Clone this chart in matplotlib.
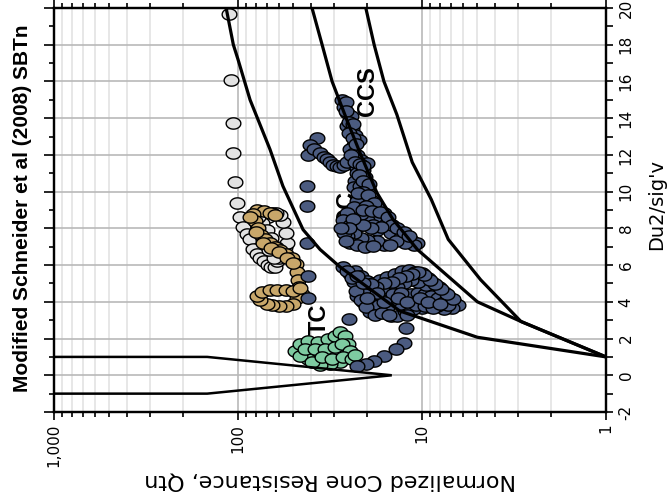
import numpy as np
import matplotlib
matplotlib.use('Agg')
import matplotlib.pyplot as plt
from matplotlib import font_manager

# ---------------- data ----------------
# Boundary lines (Qtn, Du2/sig'v)
v_q = [1000, 147, 14.6, 147, 1000]
v_d = [1, 1, 0, -1, -1]
b_q = [116, 106, 100, 86, 67, 57, 44.3, 35.8, 27.9, 13.2, 5.0, 1.0]
b_d = [20, 18, 17.2, 15.0, 12.3, 10.3, 7.93, 6.85, 5.9, 3.5, 2.07, 1.0]
c_q = [39.6, 34.9, 30.8, 25.6, 21.7, 17.6, 14.4, 10.6, 5.0, 2.9, 1.0]
c_d = [20, 18, 16, 13.9, 12.1, 9.95, 8.5, 6.85, 4.0, 2.93, 1.0]
d_q = [20.2, 18.2, 16.1, 13.7, 11.3, 8.9, 7.2, 4.8, 2.9, 1.0]
d_d = [20, 18.0, 16.0, 14.2, 11.6, 9.57, 7.4, 5.2, 2.93, 1.0]

# Gray series
gray_q = [112, 109, 106, 106, 104, 101, 97.5, 94, 89, 86, 83, 79, 76, 72, 69, 66, 63, 61, 58, 57,
          55.6, 54, 55, 57, 59, 62, 65, 69, 74, 78, 70, 66, 62, 60, 64, 68, 73]
gray_d = [19.7, 16.1, 13.75, 12.1, 10.5, 9.4, 8.64, 8.1, 7.7, 7.4, 6.85, 6.6, 6.4, 6.2, 6.0, 5.9, 5.87, 6.2, 6.5, 6.74,
          7.0, 7.23, 7.77, 8.37, 8.75, 8.86, 8.86, 8.6, 8.3, 8.6, 7.93, 7.5, 7.0, 6.41, 6.41, 6.8, 7.39]

# Tan series
tan_q = [79, 72, 67, 63, 83, 81, 78, 75, 71, 67, 63, 59, 55, 51, 48.5, 47.8, 47.2, 46.6, 45, 48,
         50, 55, 60, 65, 70, 76, 79, 74, 67, 61, 55, 50, 46, 86, 80, 73, 66, 60, 54, 50.5]
tan_d = [9.0, 8.95, 8.85, 8.75, 8.8, 8.4, 8.0, 7.65, 7.4, 7.2, 7.0, 6.8, 6.6, 6.36, 6.05, 5.65, 5.2, 4.78, 4.45, 4.2,
         3.9, 3.75, 3.75, 3.8, 3.9, 4.1, 4.3, 4.55, 4.65, 4.67, 4.62, 4.6, 4.75, 8.6, 7.8, 7.2, 6.95, 6.7, 6.4, 6.1]

# Green series
green_q = [49.0, 46.0, 41.7, 36.7, 32.4, 29.7, 27.9, 26.2, 25.2, 26.2, 28.6, 32.4, 36.7, 41.7, 46.0,
           43.2, 38.1, 33.7, 29.7, 27.2, 24.6, 27.9, 31.6, 35.8, 39.6, 34.9, 30.8, 26.9, 24.0, 23.1]
green_d = [1.30, 1.68, 1.85, 1.79, 1.96, 2.12, 2.34, 2.12, 1.68, 1.30, 1.09, 0.98, 0.87, 0.87, 1.03,
           1.41, 1.41, 1.41, 1.52, 1.68, 1.30, 0.71, 0.60, 0.54, 0.71, 0.98, 0.87, 0.98, 0.87, 1.09]

# Blue series
blue_q = [42.2, 42.2, 42.2, 41.7, 41.7,
          37.2, 40.6, 41.7, 38.5, 35.8, 34.2, 32.8, 31.5, 30.5, 29.0, 27.9, 26.5, 25.6,
          27.2, 26.5, 25.5, 24.3, 25.6, 24.0, 23.0, 22.0, 23.4, 24.5, 23.4, 22.5, 21.5, 19.9, 22.5, 21.0,
          22.5, 20.5, 23.0, 23.4, 21.8, 20.0, 21.5, 18.9, 20.5, 22.5, 17.6, 19.5, 16.1, 17.5, 19.9, 21.5,
          23.4, 25.6, 26.9, 24.5, 22.5, 18.5, 17.6, 15.5, 14.7, 13.0, 11.5, 10.6, 11.0, 12.3, 13.8, 16.1,
          17.5, 19.9, 21.5, 23.4, 25.5, 26.5, 24.6, 22.5, 20.5, 18.5, 15.0,
          25.8, 26.0, 24.8, 23.6, 25.0, 23.8, 22.8, 24.2, 23.0, 21.8, 20.8, 22.0, 21.0, 19.5, 20.8, 22.2,
          19.6, 18.2, 20.2, 21.0, 18.8, 17.0, 15.3, 14.5, 13.6, 12.5, 11.8, 16.8, 19.0, 20.8, 23.8, 25.0,
          27.5, 26.0,
          26.9, 24.6, 23.0, 21.7, 22.5, 20.9, 19.2, 16.3, 14.7, 13.6, 23.5, 21.5, 20.0, 18.5, 17.0, 15.5,
          14.0, 12.8, 11.8, 10.9, 10.0, 9.3, 8.7, 8.1, 7.6, 7.1, 6.7, 6.4, 6.9, 7.6, 8.3, 9.1, 10.0, 11.2,
          12.3, 13.2, 14.8, 16.5, 18.0, 19.5, 20.5, 18.8, 17.2, 15.5, 12.5, 11.5, 10.5, 9.6, 8.9, 8.2, 7.6,
          9.5, 10.5, 11.5, 12.6, 13.7, 15.0, 16.5, 14.3, 13.0, 9.9, 11.0,
          25.5, 24.0, 22.8, 21.5, 20.2, 18.0, 16.5, 15.2, 12.0, 10.8, 9.6, 8.7, 7.2, 6.8, 7.3, 7.9, 8.5,
          9.0, 9.7, 10.5, 11.3, 12.2, 13.3, 14.5, 16.0, 17.8, 19.0, 21.0, 22.5, 13.5, 12.0, 10.2, 9.3,
          8.0, 16.0, 17.5, 19.8,
          24.9, 12.2, 12.5, 13.8, 16.1, 18.2, 20.2, 22.5]
blue_d = [10.3, 9.2, 7.2, 5.4, 4.2,
          12.9, 12.55, 12.0, 12.3, 12.1, 11.9, 11.75, 11.6, 11.47, 11.4, 11.36, 11.45, 11.6,
          15.0, 14.6, 14.3, 14.1, 13.6, 13.4, 13.1, 12.8, 12.55, 12.3, 12.1, 12.0, 11.74, 11.58, 11.3, 11.2,
          11.03, 10.8, 10.6, 10.27, 10.3, 10.2, 9.95, 9.57, 9.7, 9.5, 9.18, 9.3, 8.86, 8.7, 8.48, 8.8,
          9.18, 8.86, 8.48, 8.2, 8.1, 8.2, 7.93, 8.3, 7.77, 7.55, 7.39, 7.23, 7.1, 7.2, 7.3, 7.12,
          7.3, 7.39, 7.5, 7.77, 7.6, 7.77, 7.2, 7.1, 7.0, 7.05, 7.1,
          14.9, 14.4, 13.8, 13.7, 13.2, 12.9, 12.6, 12.0, 11.6, 11.5, 11.4, 10.9, 10.6, 10.4, 10.0, 9.9,
          9.8, 9.4, 9.2, 9.0, 8.95, 8.9, 8.6, 8.2, 8.0, 7.8, 7.6, 8.1, 8.0, 8.2, 8.5, 8.0,
          8.0, 7.3,
          5.87, 5.49, 5.7, 4.84, 4.29, 3.97, 3.42, 3.59, 3.21, 3.21, 5.1, 5.4, 5.15, 5.0, 5.2, 5.35,
          5.5, 5.7, 5.75, 5.65, 5.55, 5.3, 5.05, 4.8, 4.55, 4.25, 4.0, 3.8, 3.65, 3.6, 3.75, 3.7, 3.65, 3.6,
          3.5, 3.9, 4.1, 4.2, 4.35, 4.6, 4.4, 3.9, 3.8, 3.7, 4.2, 4.4, 4.5, 4.4, 4.3, 4.2, 4.0,
          4.9, 5.1, 5.2, 5.0, 4.8, 4.6, 4.75, 4.4, 4.5, 4.05, 3.95,
          5.7, 5.3, 4.6, 4.1, 3.7, 3.3, 3.4, 3.3, 3.3, 3.8, 3.75, 3.65, 3.8, 4.15, 4.4, 4.7, 4.95,
          5.2, 5.45, 5.6, 5.5, 5.4, 5.3, 5.1, 5.0, 4.8, 4.95, 5.0, 5.4, 4.2, 4.0, 4.2, 4.0,
          3.9, 4.0, 4.5, 4.2,
          3.04, 2.55, 1.74, 1.41, 1.03, 0.76, 0.60, 0.49]

x_ticks = [1000, 100, 10, 1]
x_tick_labels = ["1,000", "100", "10", "1"]
y_ticks = list(range(-2, 21, 2))

title = "Modified Schneider et al (2008) SBTn"
xlabel = "Normalized Cone Resistance, Qtn"
ylabel = "Du2/sig'v"

# ---------------- figure ----------------
W, H = 668, 504
fig = plt.figure(figsize=(W / 100, H / 100), dpi=100)
ax = fig.add_axes([54 / W, 1 - 412 / H, (606 - 54) / W, (412 - 8) / H])
ax.set_xscale('log')
ax.set_xlim(1000, 1)
ax.set_ylim(-2, 20)

ax.set_xticks(x_ticks)
ax.set_xticklabels(x_tick_labels)
ax.set_xticks([m * 10 ** e for e in range(0, 3) for m in range(2, 10)], minor=True)
ax.set_xticklabels([], minor=True)
ax.set_yticks(y_ticks)
ax.set_yticks(list(range(-1, 20, 2)), minor=True)

ax.set_axisbelow(True)
ax.grid(which='major', axis='both', color='#b9b9b9', lw=1.2, zorder=0)
ax.grid(which='minor', axis='x', color='#e3e3e3', lw=1.2, zorder=0)

for sp in ax.spines.values():
    sp.set_linewidth(1.6)

ax.tick_params(axis='x', which='major', bottom=True, top=True, length=5.5, width=1.2,
               direction='out', labelsize=11, labelrotation=90, pad=3)
ax.tick_params(axis='x', which='minor', bottom=True, top=True, length=3.3, width=1.2, direction='out')
ax.tick_params(axis='y', which='major', left=True, right=False, length=7.2, width=1.2,
               direction='out', labelleft=False)
ax.tick_params(axis='y', which='minor', left=True, right=False, length=3.6, width=1.2, direction='out')

ax2 = ax.twinx()
ax2.set_ylim(-2, 20)
ax2.set_yticks(y_ticks)
ax2.set_yticklabels([str(t) for t in y_ticks])
ax2.set_yticks(list(range(-1, 20, 2)), minor=True)
ax2.tick_params(axis='y', which='both', right=True, left=False, length=5, width=1.2,
                direction='out', labelsize=11, labelrotation=90, pad=4)
for lab in ax2.get_yticklabels():
    lab.set_va('center')
for sp in ax2.spines.values():
    sp.set_linewidth(1.6)

# ellipse marker
th = np.linspace(0, 2 * np.pi, 60)
ell = np.column_stack([1.3 * np.cos(th), np.sin(th)])

def sc(q, d, col):
    ax.scatter(q, d, s=112, marker=ell, facecolor=col, edgecolor='black', linewidths=1.0, zorder=3)

ax.text(25.6, 9.1, "CC", rotation=90, ha='center', va='center', fontsize=17,
        fontweight='bold', family=['Liberation Sans', 'DejaVu Sans'], zorder=2.5)

sc(gray_q, gray_d, '#e2e2e2')
sc(tan_q, tan_d, '#c8a76a')
sc(green_q, green_d, '#7ecba1')
sc(blue_q, blue_d, '#4b5b80')

lw = 2.3
ax.plot(v_q, v_d, color='black', lw=1.8, zorder=4, solid_joinstyle='miter')
ax.plot(b_q, b_d, color='black', lw=lw, zorder=4)
ax.plot(c_q, c_d, color='black', lw=lw, zorder=4)
ax.plot(d_q, d_d, color='black', lw=lw, zorder=4)

ax.text(36.3, 3.04, "TC", rotation=90, ha='center', va='center', fontsize=17,
        fontweight='bold', family=['Liberation Sans', 'DejaVu Sans'], zorder=5)
ax.text(19.9, 15.5, "CCS", rotation=90, ha='center', va='center', fontsize=17,
        fontweight='bold', family=['Liberation Sans', 'DejaVu Sans'], zorder=5)

names = {f.name for f in font_manager.fontManager.ttflist}
if 'Liberation Sans Narrow' in names:
    fig.text(23 / W, 1 - 208 / H, title, rotation=90, ha='center', va='center',
             fontsize=18, fontweight='bold', family='Liberation Sans Narrow')
else:
    fig.text(23 / W, 1 - 208 / H, title, rotation=90, ha='center', va='center',
             fontsize=15, fontweight='bold', family='Liberation Sans')

fig.text(330 / W, 1 - 480 / H, xlabel, rotation=180, ha='center', va='center', fontsize=16)
fig.text(657 / W, 1 - 205 / H, ylabel, rotation=90, ha='center', va='center', fontsize=14)

fig.savefig('out.png', dpi=100)
